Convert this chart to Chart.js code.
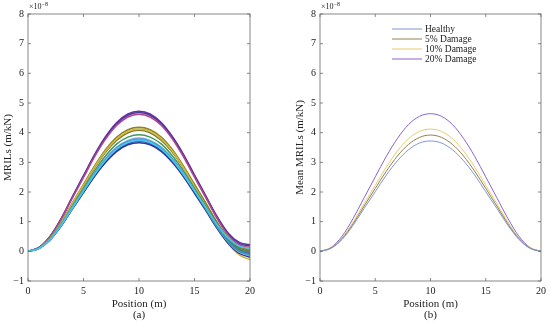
<!DOCTYPE html>
<html>
<head>
<meta charset="utf-8">
<script src="https://cdn.jsdelivr.net/npm/chart.js@4.4.0/dist/chart.umd.min.js"></script>
<style>
  html, body { margin: 0; padding: 0; background: #fff; }
  #wrap { position: relative; width: 550px; height: 323px; }
  .panel { position: absolute; top: 0; width: 275px; height: 323px; }
</style>
</head>
<body>
<div id="wrap">
  <div class="panel" style="left:0"><canvas id="left" width="275" height="323"></canvas></div>
  <div class="panel" style="left:275px"><canvas id="right" width="275" height="323"></canvas></div>
</div>
<script>
// ---- data (MRILs, x1e-8 m/kN) ----
const positions = [0, 1, 2, 3, 4, 5, 6, 7, 8, 9, 10, 11, 12, 13, 14, 15, 16, 17, 18, 19, 20];

// (b) mean curves
const meanLabels = ['Healthy', '5% Damage', '10% Damage', '20% Damage'];
const meanColors = ['#7f95d6', '#94804a', '#e5cc6a', '#8b62d2'];
const meanHealthy = [0, 0.10, 0.40, 0.88, 1.45, 2.01, 2.57, 3.05, 3.42, 3.65, 3.72, 3.65, 3.42, 3.05, 2.57, 2.01, 1.45, 0.88, 0.40, 0.10, 0];
const mean5 = [0, 0.11, 0.43, 0.93, 1.53, 2.12, 2.70, 3.21, 3.60, 3.84, 3.92, 3.84, 3.60, 3.21, 2.70, 2.12, 1.53, 0.93, 0.43, 0.11, 0];
const mean10 = [0, 0.12, 0.45, 0.99, 1.61, 2.22, 2.84, 3.38, 3.79, 4.04, 4.12, 4.04, 3.79, 3.38, 2.84, 2.22, 1.61, 0.99, 0.45, 0.12, 0];
const mean20 = [0, 0.13, 0.51, 1.11, 1.81, 2.51, 3.20, 3.80, 4.27, 4.55, 4.64, 4.55, 4.27, 3.80, 3.20, 2.51, 1.81, 1.11, 0.51, 0.13, 0];

// (a) individual runs
const run1 = [0, 0.13, 0.51, 1.11, 1.84, 2.55, 3.26, 3.87, 4.34, 4.63, 4.72, 4.63, 4.34, 3.87, 3.27, 2.57, 1.88, 1.19, 0.63, 0.31, 0.22];
const run2 = [0, 0.13, 0.50, 1.10, 1.83, 2.53, 3.23, 3.84, 4.31, 4.59, 4.68, 4.59, 4.31, 3.84, 3.24, 2.55, 1.86, 1.17, 0.60, 0.27, 0.18];
const run3 = [0, 0.12, 0.49, 1.09, 1.80, 2.49, 3.19, 3.79, 4.25, 4.53, 4.62, 4.53, 4.25, 3.79, 3.19, 2.50, 1.82, 1.13, 0.56, 0.22, 0.12];
const run4 = [0, 0.11, 0.45, 0.99, 1.63, 2.26, 2.88, 3.43, 3.85, 4.10, 4.18, 4.10, 3.85, 3.43, 2.88, 2.26, 1.64, 1.00, 0.48, 0.15, 0.05];
const run5 = [0, 0.11, 0.44, 0.97, 1.61, 2.22, 2.84, 3.38, 3.79, 4.04, 4.12, 4.04, 3.79, 3.38, 2.83, 2.19, 1.55, 0.87, 0.29, -0.11, -0.28];
const run6 = [0, 0.11, 0.44, 0.96, 1.59, 2.20, 2.82, 3.35, 3.75, 4.00, 4.08, 4.00, 3.75, 3.35, 2.82, 2.20, 1.59, 0.96, 0.44, 0.11, 0];
const run7 = [0, 0.11, 0.42, 0.93, 1.53, 2.12, 2.71, 3.22, 3.62, 3.85, 3.93, 3.85, 3.62, 3.22, 2.71, 2.12, 1.52, 0.91, 0.39, 0.07, -0.05];
const run8 = [0, 0.10, 0.41, 0.90, 1.49, 2.06, 2.64, 3.13, 3.51, 3.74, 3.82, 3.74, 3.51, 3.13, 2.63, 2.05, 1.46, 0.85, 0.33, -0.02, -0.15];
const run9 = [0, 0.10, 0.40, 0.89, 1.46, 2.03, 2.59, 3.08, 3.45, 3.68, 3.75, 3.68, 3.45, 3.08, 2.59, 2.04, 1.48, 0.92, 0.46, 0.18, 0.10];
const run10 = [0, 0.10, 0.40, 0.87, 1.44, 2.00, 2.55, 3.03, 3.40, 3.63, 3.70, 3.63, 3.40, 3.03, 2.55, 1.99, 1.43, 0.84, 0.35, 0.04, -0.08];
const run11 = [0, 0.10, 0.39, 0.86, 1.43, 1.98, 2.53, 3.00, 3.37, 3.59, 3.66, 3.59, 3.37, 3.00, 2.52, 1.96, 1.39, 0.79, 0.28, -0.06, -0.20];
const run12 = [0, 0.10, 0.40, 0.89, 1.47, 2.04, 2.61, 3.10, 3.48, 3.70, 3.78, 3.70, 3.48, 3.10, 2.60, 2.03, 1.45, 0.85, 0.34, 0.01, -0.12];
const runs = [run9, run12, run8, run11, run10, run7, run5, run6, run4, run3, run2, run1];
const runColors = ['#45c6ee', '#3a9aa6', '#8aa0ee', '#2b3c9a', '#4a62c8', '#3e9a5c', '#d4b83a', '#6e7534', '#8a8428', '#b2458f', '#4b3aa0', '#6b2fa0'];

const yTicks = [-1, 0, 1, 2, 3, 4, 5, 6, 7, 8];
const xTicks = [0, 5, 10, 15, 20];

const SERIF = '"Liberation Serif", "Times New Roman", serif';

function pts(arr) {
  return arr.map((v, i) => ({ x: positions[i], y: v }));
}

// MATLAB-style box with inward ticks and the x10^-8 multiplier
const matlabBox = {
  id: 'matlabBox',
  afterDraw(chart) {
    const { ctx, chartArea: a, scales: { x, y } } = chart;
    ctx.save();
    ctx.strokeStyle = '#6a6a6a';
    ctx.lineWidth = 0.8;
    ctx.strokeRect(a.left, a.top, a.right - a.left, a.bottom - a.top);
    const t = 3;
    ctx.beginPath();
    x.ticks.forEach(tk => {
      const px = x.getPixelForValue(tk.value);
      ctx.moveTo(px, a.bottom); ctx.lineTo(px, a.bottom - t);
      ctx.moveTo(px, a.top); ctx.lineTo(px, a.top + t);
    });
    y.ticks.forEach(tk => {
      const py = y.getPixelForValue(tk.value);
      ctx.moveTo(a.left, py); ctx.lineTo(a.left + t, py);
      ctx.moveTo(a.right, py); ctx.lineTo(a.right - t, py);
    });
    ctx.stroke();

    ctx.fillStyle = '#222';
    ctx.textBaseline = 'alphabetic';
    ctx.textAlign = 'left';
    ctx.font = '8px ' + SERIF;
    ctx.fillText('\u00d710', a.left + 1, a.top - 5);
    const w = ctx.measureText('\u00d710').width;
    ctx.font = '6px ' + SERIF;
    ctx.fillText('\u22128', a.left + 1 + w, a.top - 8);
    ctx.restore();
  }
};

// legend drawn inside the plot area, MATLAB look
const insideLegend = {
  id: 'insideLegend',
  afterDraw(chart, args, opts) {
    if (!opts.display) return;
    const { ctx, chartArea: a } = chart;
    ctx.save();
    ctx.font = '9.5px ' + SERIF;
    ctx.textBaseline = 'middle';
    ctx.textAlign = 'left';
    chart.data.datasets.forEach((ds, i) => {
      const yy = a.top + opts.top + i * opts.rowGap;
      const x0 = a.left + opts.left;
      ctx.strokeStyle = ds.borderColor;
      ctx.lineWidth = 1;
      ctx.beginPath();
      ctx.moveTo(x0, yy); ctx.lineTo(x0 + 30, yy);
      ctx.stroke();
      ctx.fillStyle = '#222';
      ctx.fillText(ds.label, x0 + 33, yy);
    });
    ctx.restore();
  }
};

const tickFmt = v => (v < 0 ? '\u2212' + Math.abs(v) : String(v));

function makeOptions(yTitle, panel, padLeft, padRight, legendOn) {
  return {
    responsive: false,
    animation: false,
    layout: { padding: { top: 14, right: padRight, left: padLeft, bottom: 0 } },
    elements: { point: { radius: 0 }, line: { cubicInterpolationMode: 'monotone' } },
    plugins: {
      legend: { display: false },
      tooltip: { enabled: false },
      insideLegend: { display: legendOn, top: 15, left: 72, rowGap: 10 },
    },
    scales: {
      x: {
        type: 'linear', min: 0, max: 20,
        afterBuildTicks: s => { s.ticks = xTicks.map(v => ({ value: v })); },
        afterFit: s => { s.height = 42; },
        grid: { display: false, drawTicks: false },
        border: { display: false },
        ticks: { padding: 4, color: '#222', font: { family: SERIF, size: 10 }, maxRotation: 0, callback: tickFmt },
        title: {
          display: true, text: ['Position (m)', panel], color: '#222',
          font: { family: SERIF, size: 11, lineHeight: 1 },
          padding: { top: 0, bottom: 2.5 },
        },
      },
      y: {
        min: -1, max: 8,
        afterBuildTicks: s => { s.ticks = yTicks.map(v => ({ value: v })); },
        afterFit: s => { s.width = 28; },
        grid: { display: false, drawTicks: false },
        border: { display: false },
        ticks: { padding: 4, color: '#222', font: { family: SERIF, size: 10 }, callback: tickFmt },
        title: {
          display: true, text: yTitle, color: '#222',
          font: { family: SERIF, size: 11, lineHeight: 1.1 },
          padding: { top: 2, bottom: 0 },
        },
      },
    },
  };
}

new Chart(document.getElementById('left'), {
  type: 'line',
  data: {
    datasets: runs.map((r, i) => ({
      label: 'run ' + (i + 1),
      data: pts(r),
      borderColor: runColors[i],
      borderWidth: 1.6,
      fill: false,
    })),
  },
  options: makeOptions('MRILs (m/kN)', '(a)', 0, 25, false),
  plugins: [matlabBox, insideLegend],
});

const means = [meanHealthy, mean5, mean10, mean20];
new Chart(document.getElementById('right'), {
  type: 'line',
  data: {
    datasets: means.map((m, i) => ({
      label: meanLabels[i],
      data: pts(m),
      borderColor: meanColors[i],
      borderWidth: 1,
      fill: false,
    })),
  },
  options: makeOptions('Mean MRILs (m/kN)', '(b)', 17, 7, true),
  plugins: [matlabBox, insideLegend],
});
</script>
</body>
</html>
